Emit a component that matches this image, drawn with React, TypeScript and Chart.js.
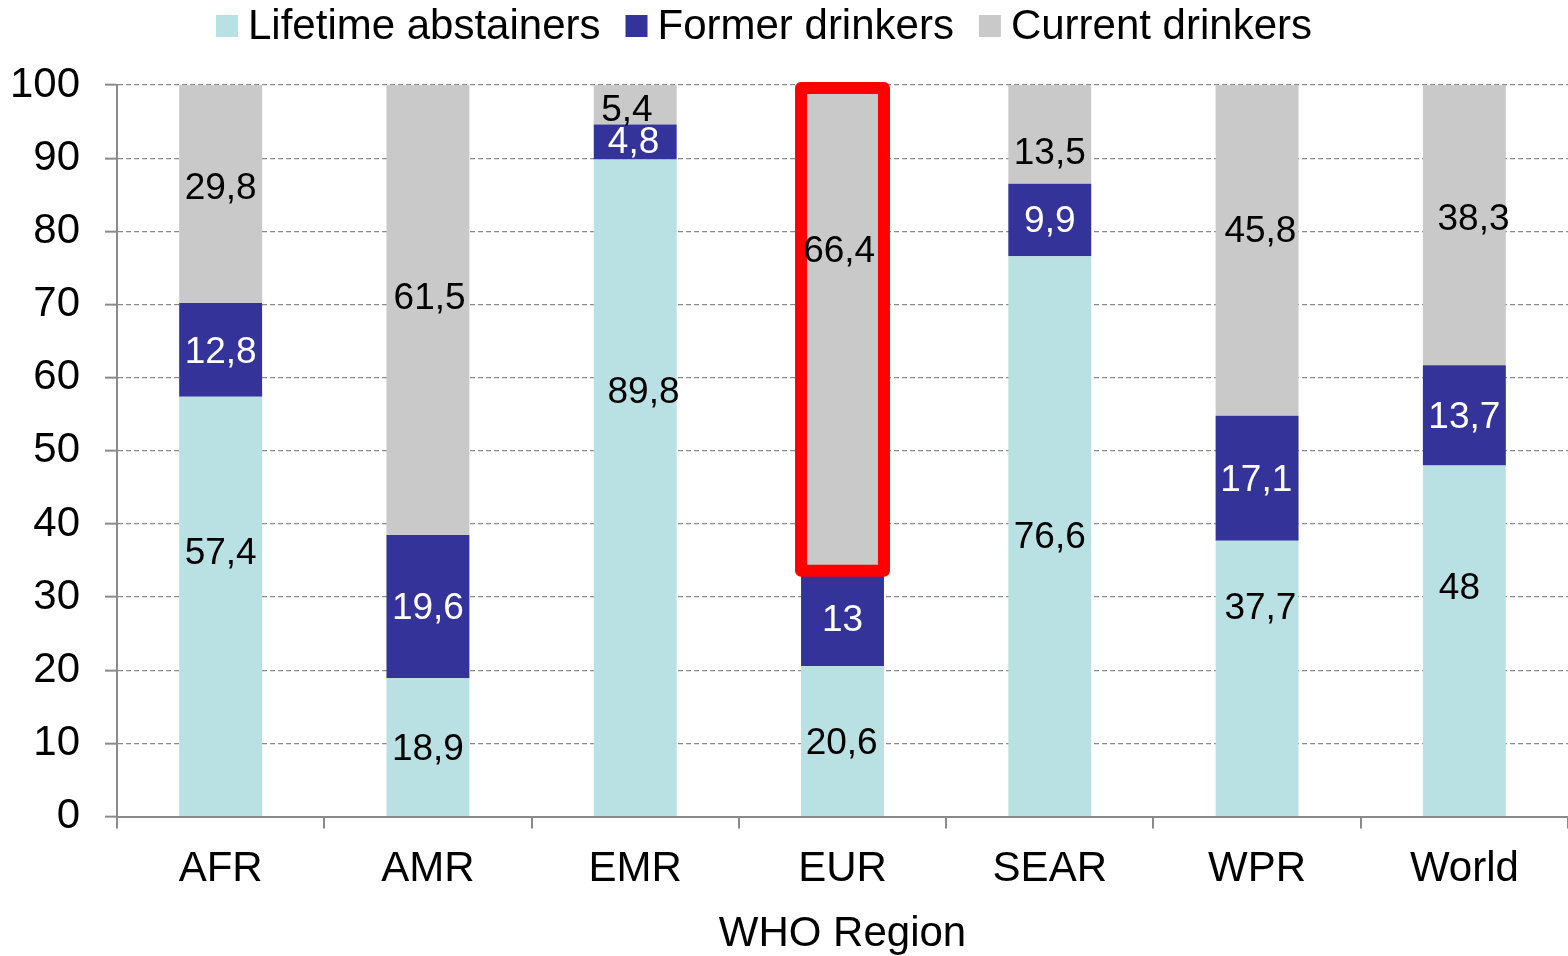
import React, { useEffect, useRef } from "react";
import { Chart, registerables } from "chart.js";

Chart.register(...registerables);

// ---------- data ----------
const categories = ["AFR", "AMR", "EMR", "EUR", "SEAR", "WPR", "World"];
const seriesNames = ["Lifetime abstainers", "Former drinkers", "Current drinkers"];
const lifetimeAbstainers = [57.4, 18.9, 89.8, 20.6, 76.6, 37.7, 48];
const formerDrinkers = [12.8, 19.6, 4.8, 13, 9.9, 17.1, 13.7];
const currentDrinkers = [29.8, 61.5, 5.4, 66.4, 13.5, 45.8, 38.3];
const yTickValues = [0, 10, 20, 30, 40, 50, 60, 70, 80, 90, 100];
const axisTitle = "WHO Region";
const highlightedRegion = "EUR";

// where each data label sits (axis value)
const lifetimeLabelAt = [36.0, 9.3, 58.0, 10.1, 38.2, 28.6, 31.3];
const formerLabelAt = [63.6, 28.6, 92.2, 26.9, 81.4, 46.1, 54.6];
const currentLabelAt = [85.9, 70.9, 96.6, 77.3, 90.8, 80.1, 81.7];
// small horizontal nudges of the labels (fraction of bar width)
const lifetimeNudge = [0, 0, 0.1, -0.01, 0, 0.04, -0.06];
const formerNudge = [0, 0, -0.02, 0, 0, -0.01, 0];
const currentNudge = [0, 0.02, -0.1, -0.04, 0, 0.04, 0.11];

// ---------- styles ----------
const COLORS = ["#B9E0E3", "#333399", "#C9C9C9"];
const LABEL_COLORS = ["#000000", "#FFFFFF", "#000000"];
const FONT = "'Liberation Sans', Arial, sans-serif";
const GRID = "#8A8A8A";

const fmt = (v: number) => String(v).replace(".", ",");

const labelAt = [lifetimeLabelAt, formerLabelAt, currentLabelAt];
const nudges = [lifetimeNudge, formerNudge, currentNudge];

const overlayPlugin = {
  id: "overlay",
  afterDatasetsDraw(chart: any) {
    const ctx = chart.ctx;
    const yScale = chart.scales.y;
    // highlight rectangle around the highlighted region's top segment
    const hi = categories.indexOf(highlightedRegion);
    if (hi >= 0) {
      const el = chart.getDatasetMeta(2).data[hi];
      const left = el.x - el.width / 2;
      const right = el.x + el.width / 2;
      const top = el.y + 3;
      const bottom = el.base;
      ctx.save();
      ctx.strokeStyle = "#FF0000";
      ctx.lineWidth = 12;
      ctx.lineJoin = "round";
      ctx.strokeRect(left, top, right - left, bottom - top);
      ctx.restore();
    }
    // data labels
    ctx.save();
    ctx.font = `37px ${FONT}`;
    ctx.textAlign = "center";
    ctx.textBaseline = "middle";
    chart.data.datasets.forEach((ds: any, di: number) => {
      const meta = chart.getDatasetMeta(di);
      meta.data.forEach((el: any, i: number) => {
        const x = el.x + nudges[di][i] * el.width;
        const y = yScale.getPixelForValue(labelAt[di][i]);
        ctx.fillStyle = LABEL_COLORS[di];
        ctx.fillText(fmt(ds.data[i]), x, y + 1);
      });
    });
    ctx.restore();
  },
  afterDraw(chart: any) {
    // legend
    const ctx = chart.ctx;
    ctx.save();
    ctx.font = `42px ${FONT}`;
    ctx.textBaseline = "middle";
    ctx.textAlign = "left";
    const box = 22;
    const gapBoxText = 10;
    const gapItems = 25;
    const widths = seriesNames.map((n) => ctx.measureText(n).width);
    const total =
      widths.reduce((a, b) => a + b, 0) +
      seriesNames.length * (box + gapBoxText) +
      (seriesNames.length - 1) * gapItems;
    let x = chart.width / 2 - 20 - total / 2;
    const cy = 26;
    seriesNames.forEach((n, i) => {
      ctx.fillStyle = COLORS[i];
      ctx.fillRect(x, cy - box / 2, box, box);
      x += box + gapBoxText;
      ctx.fillStyle = "#000";
      ctx.fillText(n, x, cy + 1);
      x += widths[i] + gapItems;
    });
    ctx.restore();
  },
};

export default function App() {
  const ref = useRef<HTMLCanvasElement | null>(null);

  useEffect(() => {
    if (!ref.current) return;
    const series = [lifetimeAbstainers, formerDrinkers, currentDrinkers];
    const chart = new Chart(ref.current, {
      type: "bar",
      data: {
        labels: categories,
        datasets: series.map((d, i) => ({
          label: seriesNames[i],
          data: d,
          backgroundColor: COLORS[i],
          borderWidth: 0,
          categoryPercentage: 1,
          barPercentage: 0.4,
        })),
      },
      options: {
        animation: false,
        responsive: true,
        maintainAspectRatio: false,
        layout: { padding: { top: 85, left: 10, right: 0, bottom: 0 } },
        plugins: {
          legend: { display: false },
          tooltip: { enabled: false },
          title: { display: false },
        },
        scales: {
          x: {
            stacked: true,
            grid: {
              display: true,
              offset: true,
              drawOnChartArea: false,
              drawTicks: true,
              tickLength: 12,
              color: GRID,
              lineWidth: 2,
            },
            border: { display: true, color: GRID, width: 2 },
            ticks: {
              color: "#000",
              font: { family: FONT, size: 42 },
              padding: 16,
              maxRotation: 0,
              autoSkip: false,
            },
            title: {
              display: true,
              text: axisTitle,
              color: "#000",
              font: { family: FONT, size: 42, lineHeight: 1 },
              padding: { top: 2, bottom: 1 },
            },
          },
          y: {
            stacked: true,
            min: 0,
            max: 100,
            afterBuildTicks: (scale: any) => {
              scale.ticks = yTickValues.map((v) => ({ value: v }));
            },
            afterFit: (scale: any) => {
              scale.width = 107;
            },
            grid: {
              display: true,
              drawTicks: true,
              tickLength: 12,
              color: GRID,
              lineWidth: 1.3,
              tickWidth: 2,
              tickBorderDash: [],
            },
            border: { display: true, color: GRID, width: 2, dash: [5, 3] },
            ticks: {
              color: "#000",
              font: { family: FONT, size: 42 },
              padding: 25,
            },
          },
        },
      },
      plugins: [overlayPlugin],
    } as any);
    return () => chart.destroy();
  }, []);

  return (
    <div style={{ position: "absolute", left: 0, top: 0, width: 1568, height: 956, background: "#fff" }}>
      <canvas ref={ref} />
    </div>
  );
}
